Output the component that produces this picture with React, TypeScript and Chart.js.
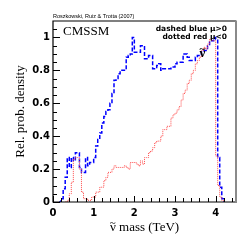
import React, { useEffect, useRef } from "react";
import { Chart, registerables } from "chart.js";

Chart.register(...registerables);

// bin width (TeV) for the histograms
const BIN = 0.05;

// dashed blue, mu>0 : bin values starting at 0.15 TeV
const blueStart = 0.15;
const blueValues = [
  0, 0.02, 0.08, 0.15, 0.27, 0.21, 0.27, 0.25, 0.3, 0.3,
  0.21, 0.18, 0.18, 0.27, 0.22, 0.24, 0.24,
  0.27, 0.34, 0.38, 0.42, 0.48, 0.52, 0.55, 0.56, 0.6, 0.66,
  0.74, 0.75, 0.78, 0.8, 0.8, 0.8, 0.88, 0.89, 0.9, 1.0,
  0.91, 0.91, 0.91, 0.95, 0.95, 0.87, 0.87, 0.89, 0.89, 0.81,
  0.81, 0.83, 0.84, 0.8, 0.81, 0.81, 0.81, 0.81, 0.82, 0.82,
  0.84, 0.85, 0.85, 0.85, 0.9, 0.9, 0.88, 0.86, 0.86, 0.86,
  0.88, 0.89, 0.89, 0.92, 0.92, 0.92, 0.95, 0.98, 0.98, 1.0,
  0.99, 0.27, 0.09, 0.02, 0,
];

// dotted red, mu<0 : bin values starting at 0.30 TeV
const redStart = 0.3;
const redValues = [
  0, 0.01, 0.05, 0.12, 0.26, 0.27, 0.27, 0.2, 0.06, 0.02,
  0.02, 0.01, 0.01, 0.03, 0.03, 0.06, 0.06, 0.09, 0.09, 0.13,
  0.15, 0.18, 0.18, 0.2, 0.22, 0.21, 0.21, 0.21, 0.21, 0.22,
  0.21, 0.2, 0.24, 0.24, 0.24, 0.23, 0.22, 0.25, 0.23, 0.27,
  0.27, 0.3, 0.31, 0.33, 0.36, 0.37, 0.37, 0.4, 0.44, 0.44,
  0.46, 0.46, 0.51, 0.53, 0.54, 0.56, 0.58, 0.62, 0.66, 0.68,
  0.72, 0.74, 0.78, 0.8, 0.84, 0.86, 0.88, 0.92, 0.94, 0.93,
  0.96, 0.99, 0.98, 0.98, 0.28, 0.1, 0.03, 0.01, 0,
];

const xTickLabels = ["0", "1", "2", "3", "4"];
const yTickLabels = ["0", "0.2", "0.4", "0.6", "0.8", "1"];
const xTitleRest = " mass (TeV)";

const toPoints = (start: number, vals: number[]) =>
  vals.map((v, i) => ({ x: +(start + i * BIN).toFixed(3), y: v }));

// draws "ν" with a tilde above it; returns width
function drawNuTilde(ctx: CanvasRenderingContext2D, x: number, y: number, font: string, bold: boolean) {
  ctx.font = font;
  const w = ctx.measureText("\u03bd").width;
  ctx.textAlign = "left";
  ctx.fillText("\u03bd", x, y);
  ctx.save();
  ctx.font = (bold ? "bold " : "") + "11px 'Liberation Serif'";
  const tw = ctx.measureText("~").width;
  ctx.fillText("~", x + (w - tw) / 2, y - 5);
  ctx.restore();
  return w;
}

const framePlugin = {
  id: "frame",
  afterDraw(chart: any) {
    const { ctx, chartArea: a, scales } = chart;
    const xs = scales.x;
    const ys = scales.y;
    ctx.save();
    // ticks
    ctx.strokeStyle = "#000";
    ctx.lineWidth = 1;
    ctx.setLineDash([]);
    for (let i = 0; i <= 22; i++) {
      const v = i * 0.2;
      const px = Math.round(xs.getPixelForValue(v)) + 0.5;
      const major = i % 5 === 0;
      ctx.beginPath();
      ctx.moveTo(px, a.bottom);
      ctx.lineTo(px, a.bottom - (major ? 6 : 4));
      ctx.stroke();
    }
    for (let i = 0; i <= 21; i++) {
      const v = i * 0.05;
      const py = Math.round(ys.getPixelForValue(v)) + 0.5;
      const major = i % 4 === 0;
      ctx.beginPath();
      ctx.moveTo(a.left, py);
      ctx.lineTo(a.left + (major ? 7 : 4), py);
      ctx.stroke();
    }
    // frame
    ctx.lineWidth = 1.2;
    ctx.beginPath();
    ctx.moveTo(a.right, a.top);
    ctx.lineTo(a.left, a.top);
    ctx.lineTo(a.left, a.bottom);
    ctx.lineTo(a.right, a.bottom);
    ctx.stroke();
    ctx.strokeStyle = "#8a8a8a";
    ctx.lineWidth = 2;
    ctx.beginPath();
    ctx.moveTo(a.right, a.top - 0.5);
    ctx.lineTo(a.right, a.bottom + 1);
    ctx.stroke();

    // texts
    ctx.fillStyle = "#000";
    ctx.textBaseline = "alphabetic";
    ctx.textAlign = "left";
    ctx.font = "5.5px 'Liberation Sans'";
    ctx.fillText("Roszkowski, Ruiz & Trotta (2007)", a.left, a.top - 3);
    ctx.font = "13px 'Liberation Serif'";
    ctx.fillText("CMSSM", a.left + 10, a.top + 14);
    ctx.textAlign = "right";
    ctx.font = "bold 7.5px 'DejaVu Sans'";
    ctx.fillText("dashed blue \u03bc>0", a.right - 9, a.top + 10);
    ctx.fillText("dotted red \u03bc<0", a.right - 9, a.top + 18);

    // curve label near the peak
    drawNuTilde(ctx, xs.getPixelForValue(3.6), ys.getPixelForValue(0.88), "bold 13px 'Liberation Serif'", true);

    // x axis title
    const tFont = "13px 'Liberation Serif'";
    ctx.font = tFont;
    const nuW = ctx.measureText("\u03bd").width;
    const restW = ctx.measureText(xTitleRest).width;
    const total = nuW + restW;
    const cx = (a.left + a.right) / 2;
    const x0 = cx - total / 2;
    const by = 231;
    drawNuTilde(ctx, x0, by, tFont, false);
    ctx.font = tFont;
    ctx.textAlign = "left";
    ctx.fillText(xTitleRest, x0 + nuW, by);
    ctx.restore();
  },
};

export default function App() {
  const ref = useRef<HTMLCanvasElement>(null);
  useEffect(() => {
    document.body.style.margin = "0";
    const chart = new Chart(ref.current!, {
      type: "line",
      data: {
        datasets: [
          {
            data: toPoints(redStart, redValues),
            borderColor: "#ff4a4a",
            borderWidth: 1,
            borderDash: [1, 1],
            stepped: true,
            pointRadius: 0,
            fill: false,
          },
          {
            data: toPoints(blueStart, blueValues),
            borderColor: "#0000ff",
            borderWidth: 1.5,
            borderDash: [4, 2],
            stepped: true,
            pointRadius: 0,
            fill: false,
          },
        ],
      },
      options: {
        animation: false,
        responsive: false,
        devicePixelRatio: 1,
        layout: { padding: { left: 0, top: 21, right: 13, bottom: 0 } },
        plugins: { legend: { display: false }, tooltip: { enabled: false } },
        scales: {
          x: {
            type: "linear",
            min: 0,
            max: 4.5,
            grid: { display: false, drawTicks: false },
            border: { display: false },
            afterFit: (s: any) => {
              s.height = 47;
            },
            afterBuildTicks: (s: any) => {
              s.ticks = xTickLabels.map((_, i) => ({ value: i }));
            },
            ticks: {
              padding: 5,
              color: "#000",
              font: { family: "'DejaVu Sans'", size: 10, weight: "bold" },
              callback: (v: any) => xTickLabels[Math.round(v)] ?? "",
            },
            title: { display: false },
          },
          y: {
            type: "linear",
            min: 0,
            max: 1.1,
            grid: { display: false, drawTicks: false },
            border: { display: false },
            afterFit: (s: any) => {
              s.width = 53;
            },
            afterBuildTicks: (s: any) => {
              s.ticks = yTickLabels.map((_, i) => ({ value: i * 0.2 }));
            },
            ticks: {
              padding: 3,
              color: "#000",
              font: { family: "'DejaVu Sans'", size: 10, weight: "bold" },
              callback: (v: any) => yTickLabels[Math.round(v / 0.2)] ?? "",
            },
            title: {
              display: true,
              text: "Rel. prob. density",
              color: "#000",
              font: { family: "'Liberation Serif'", size: 13 },
              padding: { top: 13, bottom: 0 },
            },
          },
        },
      },
      plugins: [framePlugin],
    });
    return () => chart.destroy();
  }, []);
  return (
    <div style={{ position: "absolute", left: 0, top: 0, width: 249, height: 249, background: "#fff" }}>
      <canvas ref={ref} width={249} height={249} />
    </div>
  );
}
